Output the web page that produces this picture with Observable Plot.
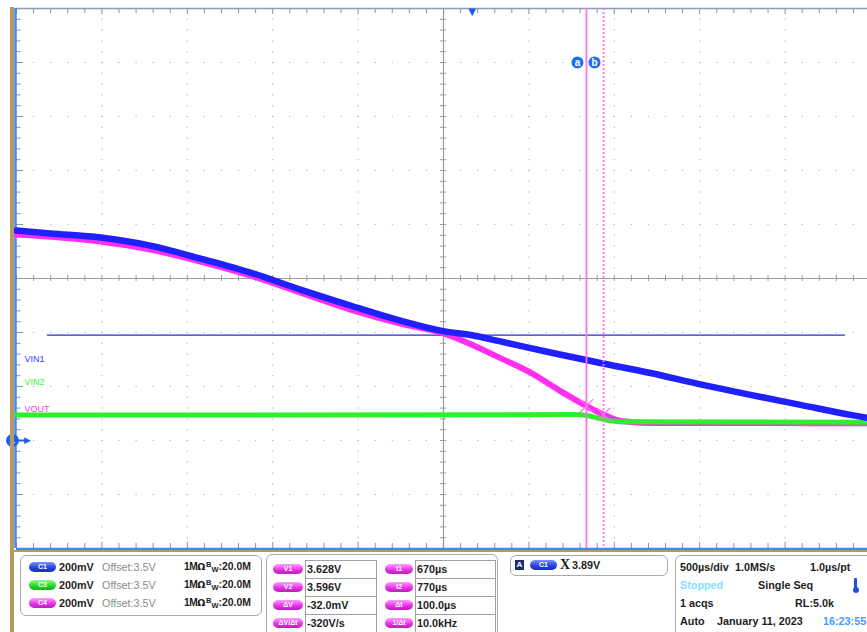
<!DOCTYPE html>
<html><head><meta charset="utf-8">
<script src="https://cdn.jsdelivr.net/npm/d3@7"></script>
<script src="https://cdn.jsdelivr.net/npm/@observablehq/plot@0.6"></script>
<style>
html,body{margin:0;padding:0;background:#fff;}
body{width:867px;height:632px;overflow:hidden;position:relative;font-family:"Liberation Sans",Arial,sans-serif;}
#chart{position:absolute;left:0;top:0;width:870px;}
#chart svg{max-width:none !important;}
.strip{position:absolute;background:#b39a5e;}
.box{position:absolute;border:1.5px solid #a9a9a9;border-radius:6px;background:#fff;box-sizing:border-box;}
.t{position:absolute;font-weight:bold;font-size:10.8px;line-height:12px;color:#1e1e1e;white-space:nowrap;}
.g{color:#8c8c8c;font-weight:normal;}
.pill{position:absolute;height:10px;border-radius:5px;color:#fff;font-size:7px;line-height:10px;text-align:center;font-weight:bold;}
.pb{background:linear-gradient(#7b93ff,#1f3fe0 60%,#1a33b8);}
.pg{background:linear-gradient(#8dff8d,#22d622 60%,#1aae1a);}
.pm{background:linear-gradient(#ff9cff,#e52ee5 60%,#bd1fbd);}
.vb{position:absolute;border:1px solid #a0a0a0;box-sizing:border-box;background:#fff;}
</style></head><body>
<div id="chart"></div>
<div class="strip" style="left:10px;top:7px;width:4px;height:625px;"></div>
<div class="strip" style="left:10px;top:550px;width:857px;height:2px;"></div>
<div id="panel"></div>
<script>
// ---- axis settings (oscilloscope: 500 µs/div, 200 mV/div) ----
const tLeft = -2667, tRight = 2333;       // µs, 10 divisions
const vBot = 3.1, vTop = 5.1;             // V, 10 divisions
const tDiv = 500, vDiv = 0.2;

// ---- trace data ----
const vin1Time = [-2667,-2470,-2175,-1883,-1590,-1297,-1005,-712,-419,-167,0,166,459,752,1045,1337,1630,1923,2216,2333];
const vin1Volt = [4.278,4.267,4.252,4.222,4.174,4.122,4.059,4.000,3.944,3.905,3.890,3.867,3.826,3.787,3.750,3.708,3.669,3.632,3.595,3.582];

const voutTime = [-2667,-2175,-1883,-1590,-1297,-1005,-712,-419,-167,0,166,340,500,670,770,870,1045,2333];
const voutVolt = [4.263,4.237,4.207,4.163,4.111,4.048,3.985,3.933,3.897,3.855,3.805,3.752,3.690,3.628,3.596,3.572,3.565,3.564];

const vin2Time = [-2667,600,680,770,870,2333];
const vin2Volt = [3.594,3.596,3.592,3.578,3.569,3.568];

// cursors, trigger
const cursorTimes = [670, 770];
const cursorVolts = [3.628, 3.596];
const cursorNames = ["a", "b"];
const triggerTime = 0;
const triggerLevel = 3.89;
const triggerLineSpan = [-2486, 2186];
const channelOffset = 3.5;

// channel labels
const labelNames = ["VIN1", "VIN2", "VOUT"];
const labelVolts = [3.800, 3.716, 3.615];
const colors = {vin1: "#2020ff", vin2: "#2cf02c", vout: "#ff2ef0"};
const labelColors = ["#3a3aff", "#3ef03e", "#ff3cf0"];

const vin1 = vin1Time.map((t,i)=>({t, v: vin1Volt[i]}));
const vout = voutTime.map((t,i)=>({t, v: voutVolt[i]}));
const vin2 = vin2Time.map((t,i)=>({t, v: vin2Volt[i]}));
const labels = labelNames.map((n,i)=>({n, v: labelVolts[i], c: labelColors[i]}));
const cursors = cursorTimes.map((t,i)=>({t, v: cursorVolts[i], n: cursorNames[i]}));

// grid structure
const W = 870, H = 550, mL = 16, mT = 8, mB = 2;
const pxPerDivX = (W - mL) / 10, pxPerDivY = (H - mT - mB) / 10;
const tPerPx = tDiv / pxPerDivX, vPerPx = vDiv / pxPerDivY;
const majorT = d3.range(0, 11).map(i => tLeft + i * tDiv);
const minorT = d3.range(0, 51).map(i => tLeft + i * tDiv / 5);
const majorV = d3.range(0, 11).map(i => vBot + i * vDiv);
const minorV = d3.range(0, 51).map(i => vBot + i * vDiv / 5);
const cT = majorT[5], cV = majorV[5];
const dotsH = [], dotsV = [];
majorV.slice(1, 10).forEach((v, j) => { if (j !== 4) minorT.slice(1, 50).forEach(t => dotsH.push({t, v})); });
majorT.slice(1, 10).forEach((t, j) => { if (j !== 4) minorV.slice(1, 50).forEach(v => dotsV.push({t, v})); });
const isMajorV = (v, i) => i % 5 === 0;

const tickCol = "#8494a8";
const chart = Plot.plot({
  width: W, height: H,
  marginLeft: mL, marginRight: 0, marginTop: mT, marginBottom: mB,
  x: {domain: [tLeft, tRight], axis: null},
  y: {domain: [vBot, vTop], axis: null},
  style: {background: "transparent", overflow: "visible", maxWidth: "none"},
  marks: [
    // dotted grid
    Plot.dot(dotsH, {x: "t", y: "v", r: 0.75, fill: "#bdbdbd", stroke: null}),
    Plot.dot(dotsV, {x: "t", y: "v", r: 0.75, fill: "#bdbdbd", stroke: null}),
    // centre cross with ticks
    Plot.ruleX([cT], {stroke: "#9c9c9c", strokeWidth: 1.2}),
    Plot.ruleY([cV], {stroke: "#9c9c9c", strokeWidth: 1.2}),
    Plot.ruleY(minorV, {y: d => d, x1: cT - 3 * tPerPx, x2: cT + 3 * tPerPx, stroke: "#9c9c9c"}),
    Plot.ruleX(minorT, {x: d => d, y1: cV - 3 * vPerPx, y2: cV + 3 * vPerPx, stroke: "#9c9c9c"}),
    // edge ticks
    Plot.ruleX(minorT, {x: d => d, y1: vTop, y2: (d, i) => vTop - (i % 5 === 0 ? 6 : 5) * vPerPx, stroke: tickCol}),
    Plot.ruleX(minorT, {x: d => d, y1: vBot, y2: (d, i) => vBot + (i % 5 === 0 ? 6 : 5) * vPerPx, stroke: tickCol}),
    Plot.ruleY(minorV, {y: d => d, x1: tLeft, x2: (d, i) => tLeft + (isMajorV(d, i) ? 7 : 4.5) * tPerPx, stroke: tickCol}),
    // frame
    Plot.ruleY([vTop], {stroke: "#8d9cb2", strokeWidth: 1.5}),
    Plot.ruleX([tLeft], {stroke: "#3f86f7", strokeWidth: 2.5, dx: -1}),
    Plot.ruleY([vBot], {stroke: "#3f86f7", strokeWidth: 2.5, dy: 0.5}),
    // trigger level
    Plot.ruleY([triggerLevel], {x1: triggerLineSpan[0], x2: triggerLineSpan[1], stroke: "#2b2bd0", strokeWidth: 1.2}),
    // traces
    Plot.line(vout, {x: "t", y: "v", stroke: colors.vout, strokeWidth: 6, curve: "monotone-x"}),
    Plot.line(vin2, {x: "t", y: "v", stroke: colors.vin2, strokeWidth: 5, curve: "monotone-x"}),
    Plot.line(vin1, {x: "t", y: "v", stroke: colors.vin1, strokeWidth: 6.5, curve: "monotone-x"}),
    // cursors
    Plot.ruleX([cursorTimes[0]], {stroke: "#ff70f5", strokeWidth: 1.8}),
    Plot.ruleX([cursorTimes[1]], {stroke: "#ff70f5", strokeWidth: 1.8, strokeDasharray: "2,2"}),
    Plot.dot(cursors, {x: "t", y: "v", symbol: "times", r: 6, stroke: "#ff6ef0", strokeWidth: 1.2}),
    Plot.dot(cursors, {x: "t", y: 4.9, r: 6, fill: "#1f6ff2", stroke: null, dx: -9}),
    Plot.text(cursors, {x: "t", y: 4.9, text: "n", fill: "white", fontSize: 10, fontWeight: "bold", dx: -9, fontFamily: "Liberation Sans"}),
    // trigger position marker
    Plot.text([triggerTime], {x: d => d, y: vTop, text: () => "▼", fill: "#1a5cf0", fontSize: 10, dy: 3, fontFamily: "DejaVu Sans"}),
    // channel offset marker
    Plot.dot([channelOffset], {x: tLeft, y: d => d, r: 6.5, fill: "#1d5ff0", stroke: null, dx: -4}),
    Plot.ruleY([channelOffset], {x1: tLeft, x2: tLeft + 10 * tPerPx, stroke: "#1d5ff0", strokeWidth: 2}),
    Plot.text([channelOffset], {x: tLeft, y: d => d, text: () => "▶", fill: "#1d5ff0", fontSize: 9, dx: 11, fontFamily: "DejaVu Sans"}),
    Plot.text([channelOffset], {x: tLeft, y: d => d, text: () => "1", fill: "white", fontSize: 9, fontWeight: "bold", dx: -4, fontFamily: "Liberation Sans"}),
    // channel labels
    Plot.text(labels, {x: tLeft, y: "v", text: "n", fill: "c", fontSize: 9, textAnchor: "start", dx: 8, fontFamily: "Liberation Sans"})
  ]
});
document.getElementById("chart").appendChild(chart);

// ---- information panel below the chart ----
const chRows = [
  {cls: "pb", ch: "C1", vdiv: "200mV", off: "Offset:3.5V", imp: "1MΩ", bw: "20.0M"},
  {cls: "pg", ch: "C3", vdiv: "200mV", off: "Offset:3.5V", imp: "1MΩ", bw: "20.0M"},
  {cls: "pm", ch: "C4", vdiv: "200mV", off: "Offset:3.5V", imp: "1MΩ", bw: "20.0M"}
];
const measLeft = [["V1", "3.628V"], ["V2", "3.596V"], ["ΔV", "-32.0mV"], ["ΔV/Δt", "-320V/s"]];
const measRight = [["t1", "670µs"], ["t2", "770µs"], ["Δt", "100.0µs"], ["1/Δt", "10.0kHz"]];
const trigText = "3.89V";
const tb = {
  row1: ["500µs/div", "1.0MS/s", "1.0µs/pt"],
  row2: ["Stopped", "Single Seq"],
  row3: ["1 acqs", "RL:5.0k"],
  row4: ["Auto", "January 11, 2023", "16:23:55"]
};

let h = "";
h += `<div class="box" style="left:20px;top:555px;width:242px;height:61px"></div>`;
const chY = [567, 584.5, 602.5];
chRows.forEach((r, i) => {
  const y = chY[i];
  h += `<div class="pill ${r.cls}" style="left:29px;top:${y-5}px;width:27px">${r.ch}</div>`;
  h += `<div class="t" style="left:59px;top:${y-6}px">${r.vdiv}</div>`;
  h += `<div class="t g" style="left:102px;top:${y-6}px">${r.off}</div>`;
  h += `<div class="t" style="left:184px;top:${y-6}px;font-size:10.2px;letter-spacing:-0.4px;font-family:'Liberation Sans'">1M<span style="font-family:'DejaVu Sans';font-size:9.5px">Ω</span></div>`;
  h += `<div class="t" style="left:206px;top:${y-6}px;font-size:10.4px"><span style="font-size:7.5px;position:relative;top:-3px">B</span><span style="font-size:7.5px;position:relative;top:2px">W</span>:${r.bw}</div>`;
});
h += `<div class="box" style="left:266px;top:554px;width:232px;height:90px"></div>`;
const mY = [569, 587, 605, 623];
mY.forEach((y, i) => {
  h += `<div class="pill pm" style="left:273px;top:${y-5}px;width:30px">${measLeft[i][0]}</div>`;
  h += `<div class="vb" style="left:305px;top:${y-9}px;width:72px;height:19px"></div>`;
  h += `<div class="t" style="left:307px;top:${y-6}px">${measLeft[i][1]}</div>`;
  h += `<div class="pill pm" style="left:385px;top:${y-5}px;width:28px">${measRight[i][0]}</div>`;
  h += `<div class="vb" style="left:415px;top:${y-9}px;width:81px;height:19px"></div>`;
  h += `<div class="t" style="left:417px;top:${y-6}px">${measRight[i][1]}</div>`;
});
h += `<div class="box" style="left:510px;top:555px;width:158px;height:21px"></div>`;
h += `<div style="position:absolute;left:515px;top:560px;width:9px;height:10px;background:#1c2f6e;color:#fff;font:bold 8px 'Liberation Sans';line-height:10px;text-align:center">A</div>`;
h += `<div class="pill pb" style="left:530px;top:560px;width:27px">C1</div>`;
h += `<div class="t" style="left:560px;top:558px;font-family:'Liberation Serif';font-size:14px;line-height:14px">X</div>`;
h += `<div class="t" style="left:572px;top:559px">${trigText}</div>`;
h += `<div class="box" style="left:675px;top:555px;width:200px;height:90px"></div>`;
h += `<div class="t" style="left:680px;top:561px">${tb.row1[0]}</div>`;
h += `<div class="t" style="left:735px;top:561px">${tb.row1[1]}</div>`;
h += `<div class="t" style="left:810px;top:561px">${tb.row1[2]}</div>`;
h += `<div class="t" style="left:680px;top:579px;color:#7fe2ff">${tb.row2[0]}</div>`;
h += `<div class="t" style="left:758px;top:579px">${tb.row2[1]}</div>`;
h += `<div style="position:absolute;left:854px;top:578px;width:3px;height:11px;background:#1f4fe0;border-radius:1px"></div>`;
h += `<div style="position:absolute;left:852.5px;top:587px;width:6px;height:6px;background:#1f4fe0;border-radius:3px"></div>`;
h += `<div class="t" style="left:680px;top:597px">${tb.row3[0]}</div>`;
h += `<div class="t" style="left:795px;top:597px">${tb.row3[1]}</div>`;
h += `<div class="t" style="left:680px;top:615px">${tb.row4[0]}</div>`;
h += `<div class="t" style="left:717px;top:615px">${tb.row4[1]}</div>`;
h += `<div class="t" style="left:823px;top:615px;color:#3f9cff">${tb.row4[2]}</div>`;
document.getElementById("panel").innerHTML = h;
</script>
</body></html>
